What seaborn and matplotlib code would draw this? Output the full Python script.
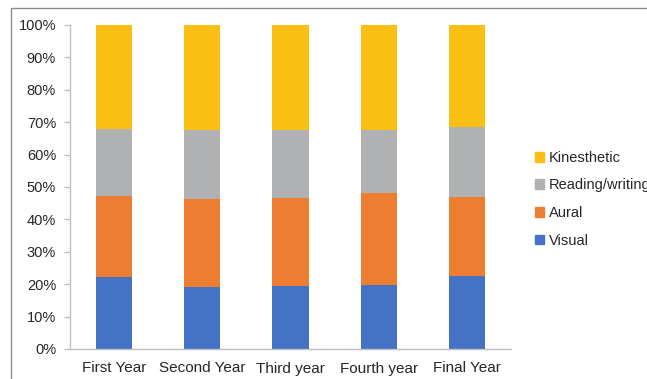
import numpy as np
import pandas as pd
import matplotlib
matplotlib.use("Agg")
import matplotlib.pyplot as plt
import matplotlib.patches as mpatches
from matplotlib.ticker import PercentFormatter
import seaborn as sns

# share of students per learning style (%)
years = ["First Year", "Second Year", "Third year", "Fourth year", "Final Year"]
visual = [22.2, 19.1, 19.4, 19.8, 22.5]
aural = [25.0, 27.2, 27.2, 28.3, 24.4]
reading = [20.7, 21.3, 21.0, 19.6, 21.6]
kinesthetic = [32.1, 32.4, 32.4, 32.3, 31.5]

styles = ["Visual", "Aural", "Reading/writing", "Kinesthetic"]
colors = ["#4472c4", "#ed7d31", "#b0b1b3", "#fbbf14"]

df = pd.DataFrame({"Year": years, "Visual": visual, "Aural": aural,
                   "Reading/writing": reading, "Kinesthetic": kinesthetic})
# cumulative heights so the taller bars sit behind the shorter ones
cum = df[styles].cumsum(axis=1)
cum["Year"] = years

sns.set_style("white")
plt.rcParams['font.family'] = ['Liberation Sans', 'DejaVu Sans']

fig = plt.figure(figsize=(6.47, 3.79), dpi=100)
ax = fig.add_axes([70 / 647, 1 - 349 / 379, 441 / 647, 324 / 379])

for style, col in reversed(list(zip(styles, colors))):
    sns.barplot(data=cum, x="Year", y=style, color=col, width=0.41,
                saturation=1, ax=ax, linewidth=0)

ax.set_xlim(-0.5, 4.5)
ax.set_ylim(0, 100)
ax.set_yticks(np.arange(0, 101, 10))
ax.yaxis.set_major_formatter(PercentFormatter(decimals=0))
ax.set_xlabel("")
ax.set_ylabel("")

grey = "#bfbfbf"
for side in ["top", "right"]:
    ax.spines[side].set_visible(False)
for side in ["left", "bottom"]:
    ax.spines[side].set_color(grey)
    ax.spines[side].set_linewidth(1.0)

ax.set_xticks(np.arange(-0.5, 5, 1), minor=True)
ax.tick_params(axis="x", which="major", length=0, pad=9, labelsize=11, labelcolor="#262626")
ax.tick_params(axis="x", which="minor", length=5, color=grey, width=1, direction="out")
ax.tick_params(axis="y", length=4, color=grey, width=1, direction="out", pad=6,
               labelsize=10.5, labelcolor="#262626", left=True)

# legend runs past the right edge, as in the original chart
handles = [mpatches.Patch(color=c, label=s) for s, c in zip(styles, colors)][::-1]
leg = fig.legend(handles=handles, loc="upper left", bbox_to_anchor=(529 / 647, 1 - 145 / 379),
                 frameon=False, fontsize=10.5, handlelength=0.65, handleheight=0.65,
                 handletextpad=0.3, labelspacing=0.93, borderaxespad=0)
for t in leg.get_texts():
    t.set_color("#262626")

# chart area border (only left and top edges fall inside the image)
fig.patches.append(mpatches.Rectangle((11 / 647, -0.2), 2, 1 - 8 / 379 + 0.2,
                                      transform=fig.transFigure, fill=False,
                                      edgecolor="#8c8c8c", linewidth=1.0))

fig.savefig("out.png", dpi=100)
